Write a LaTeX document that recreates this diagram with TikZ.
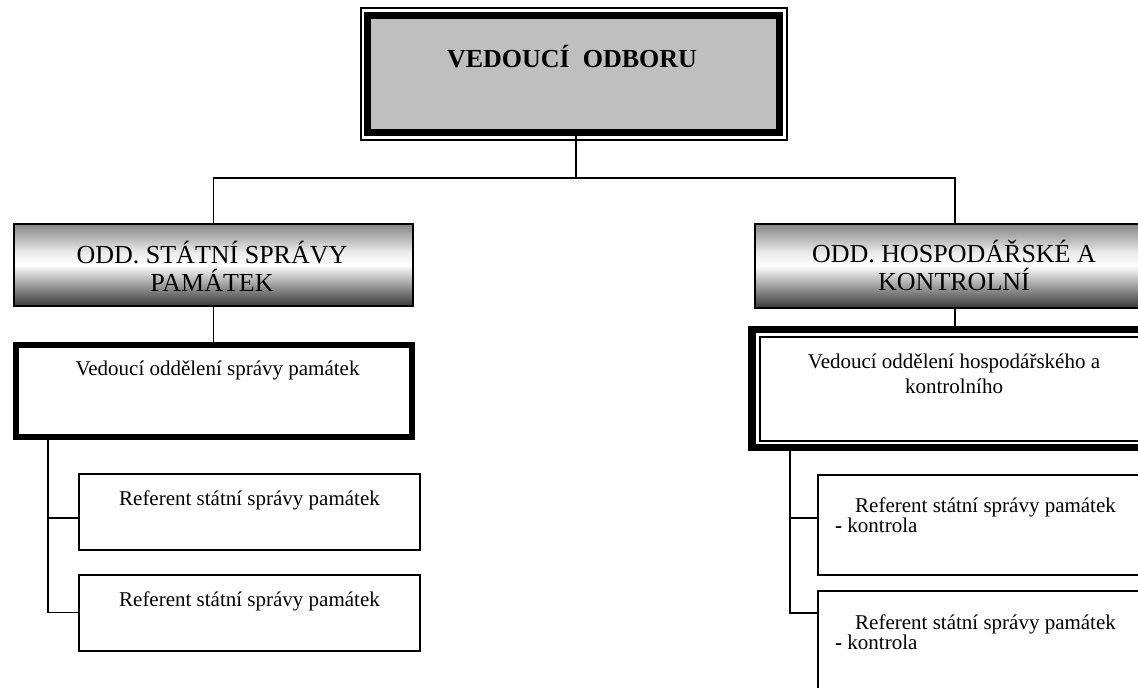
\documentclass[tikz,border=0pt]{standalone}
\usepackage{fontspec}
\setmainfont{Liberation Serif}
\usepackage{tikz}
\usetikzlibrary{calc}
\definecolor{topgr}{gray}{0.75}
\pgfdeclareverticalshading{oddshade}{100bp}{color(0bp)=(black!78); color(25bp)=(black!78); color(31bp)=(black!60); color(50bp)=(white); color(58bp)=(white!92!black); color(75bp)=(black!48); color(100bp)=(black!48)}
\tikzset{
  conn/.style={line width=1.8pt},
  oddbox/.style={draw, line width=2pt, shading=oddshade, minimum width=399pt, minimum height=82pt, inner sep=0pt, outer sep=0pt},
  refbox/.style={draw, line width=2pt, fill=white, minimum width=341pt, minimum height=76pt, inner sep=0pt, outer sep=0pt},
  bigtxt/.style={font=\fontsize{26}{28}\selectfont, align=center, inner sep=0pt},
  smalltxt/.style={font=\fontsize{21}{20}\selectfont, inner sep=0pt}
}

\begin{document}
\begin{tikzpicture}[x=1pt,y=-1pt]
\useasboundingbox (0,0) rectangle (1138,688);
% head of the department
\node[draw, line width=7pt, fill=topgr, minimum width=412pt, minimum height=116.5pt, outer sep=0pt] (vedouci) at (573.5,73.75) {};
\draw[line width=1.5pt] ([shift={(-6.5,-7.5)}]vedouci.north west) rectangle ([shift={(7.5,8)}]vedouci.south east);
\node[bigtxt, font=\fontsize{26}{28}\selectfont\bfseries, anchor=base] (vedoucitxt) at (572,67) {VEDOUCÍ\ \ ODBORU};
% two departments
\node[oddbox] (oddpam) at (213.5,265) {};
\node[oddbox, minimum width=400pt, minimum height=84pt] (oddhosp) at (955,266) {};
\node[bigtxt, anchor=base] (oddpamtxt) at (212,291) {ODD. STÁTNÍ SPRÁVY\\PAMÁTEK};
\node[bigtxt, anchor=base] (oddhosptxt) at (954,290) {ODD. HOSPODÁŘSKÉ A\\KONTROLNÍ};
\coordinate (split) at (576,178);
\draw[conn] (vedouci.south -| split) -- (split);
\draw[conn] (oddpam.north) |- (split) -| (oddhosp.north);
% heads of the departments
\node[draw, line width=6pt, fill=white, minimum width=396pt, minimum height=92pt, outer sep=0pt] (vedpam) at (213.5,391) {};
\node[smalltxt, anchor=base] (vedpamtxt) at (217.5,375) {Vedoucí oddělení správy památek};
\node[draw, line width=7.5pt, fill=white, minimum width=404pt, minimum height=118pt, outer sep=0pt] (vedhosp) at (954,388.5) {};
\draw[line width=1.5pt] ([shift={(8,7.5)}]vedhosp.north west) rectangle ([shift={(-8,-6.5)}]vedhosp.south east);
\node[smalltxt, font=\fontsize{21}{25}\selectfont, align=center, anchor=base] (vedhosptxt) at (954,393) {Vedoucí oddělení hospodářského a\\kontrolního};
\draw[conn] (oddpam.south) -- (vedpam.north);
\draw[conn] (oddhosp.south) -- (oddhosp.south |- vedhosp.north);
% referents
\foreach \y/\n in {512/lref1, 612.5/lref2}{
\node[refbox] (\n) at (249.5,\y) {};
\node[smalltxt, anchor=base] (\n txt) at (249.5,\y-6.5) {Referent státní správy památek};
}
\foreach \y/\h/\n in {525/100/rref1, 642/102/rref2}{
\node[refbox, minimum width=337pt, minimum height=\h pt] (\n) at (986.5,\y) {};
\node[smalltxt, align=left, anchor=north west] (\n txt) at (835,\y-27) {\hspace*{20pt}Referent státní správy památek\\\textbf{-} kontrola};
}
\draw[conn] ([xshift=32.5pt]vedpam.south west) |- ([yshift=-6pt]lref1.west);
\draw[conn] ([xshift=32.5pt]vedpam.south west) |- (lref2.west);
\draw[conn] ([xshift=38pt]vedhosp.south west) |- ([yshift=7pt]rref1.west);
\draw[conn] ([xshift=38pt]vedhosp.south west) |- ([yshift=29pt]rref2.west);
\end{tikzpicture}
\end{document}
